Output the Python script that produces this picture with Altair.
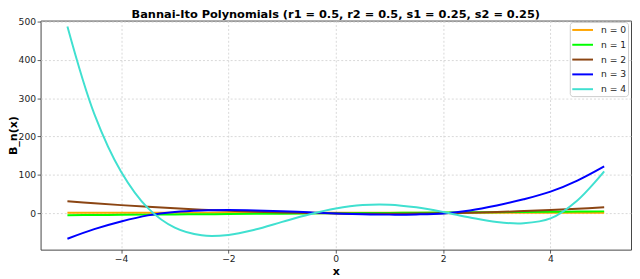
import altair as alt
import pandas as pd

x_vals = [-5.0, -4.5, -4.0, -3.5, -3.0, -2.5, -2.0, -1.5, -1.0, -0.5, 0.0,
          0.5, 1.0, 1.5, 2.0, 2.5, 3.0, 3.5, 4.0, 4.5, 5.0]

b0 = [1, 1, 1, 1, 1, 1, 1, 1, 1, 1, 1, 1, 1, 1, 1, 1, 1, 1, 1, 1, 1]
b1 = [-5.5, -5.0, -4.5, -4.0, -3.5, -3.0, -2.5, -2.0, -1.5, -1.0, -0.5,
      0.0, 0.5, 1.0, 1.5, 2.0, 2.5, 3.0, 3.5, 4.0, 4.5]
b2 = [31, 25.6, 20.8, 16.4, 12.4, 9, 6, 3.6, 1.6, 0, -1,
      -1.6, -1.6, -1.2, -0.4, 1, 2.8, 5.2, 8, 11.2, 15]
b3 = [-67, -42, -22, -6, 3, 7, 8, 7, 5, 2, -1,
      -3, -4, -3.5, -1, 7, 20, 36, 56, 85, 122]
b4 = [487, 259, 108, 13, -38, -58, -57, -43, -23, -3.5, 12,
      21, 22, 15, 3, -11.5, -23.5, -26.5, -14, 33, 109]

series_names = ["n = 0", "n = 1", "n = 2", "n = 3", "n = 4"]
series_colors = ["#FFA500", "#00FF00", "#8B4513", "#0000FF", "#40E0D0"]

x_ticks = [-4, -2, 0, 2, 4]
y_ticks = [0, 100, 200, 300, 400, 500]

rows = []
for name, vals in zip(series_names, [b0, b1, b2, b3, b4]):
    for xv, yv in zip(x_vals, vals):
        rows.append({"x": xv, "value": yv, "series": name})
df = pd.DataFrame(rows)

FONT = "DejaVu Sans"

chart = alt.Chart(df).mark_line(
    strokeWidth=2, interpolate="catmull-rom", clip=True
).encode(
    x=alt.X("x:Q",
            scale=alt.Scale(domain=[-5.5, 5.5], nice=False, zero=False),
            axis=alt.Axis(title="x", values=x_ticks, format="d")),
    y=alt.Y("value:Q",
            scale=alt.Scale(domain=[-95.4, 502.6], nice=False, zero=False),
            axis=alt.Axis(title="B_n(x)", values=y_ticks, format="d")),
    color=alt.Color("series:N",
                    scale=alt.Scale(domain=series_names, range=series_colors),
                    title=None,
                    legend=alt.Legend(
                        orient="none", legendX=536, legendY=1.5,
                        symbolType="M-2,0L2,0", symbolSize=110,
                        symbolStrokeWidth=2, symbolOffset=5,
                        labelOffset=12, labelFont=FONT, labelFontSize=9.3,
                        labelColor="#222222", padding=1.5, rowPadding=3,
                        strokeColor="#cccccc", fillColor="white",
                        cornerRadius=3)),
).properties(
    width=598, height=232,
    autosize=alt.AutoSizeParams(type="none"),
    padding={"left": 33, "top": 11, "right": 1, "bottom": 28},
    title=alt.TitleParams(
        "Bannai-Ito Polynomials (r1 = 0.5, r2 = 0.5, s1 = 0.25, s2 = 0.25)",
        font=FONT, fontSize=11.5, fontWeight="bold", color="black",
        anchor="middle", frame="group", baseline="bottom", offset=0, dy=13.5),
).configure_view(
    stroke="#444444", strokeWidth=1
).configure_axis(
    domain=False, grid=True, gridColor="#cfcfcf", gridDash=[2, 2],
    gridWidth=0.8, tickColor="#333333", tickSize=3.5, tickWidth=0.8,
    labelFont=FONT, labelFontSize=9.3, labelColor="#222222",
    labelPadding=1.5, titleFont=FONT, titleFontSize=11.2,
    titleFontWeight="bold", titleColor="black"
).configure_axisX(
    titlePadding=2
).configure_axisY(
    titlePadding=0
)

chart.save("out.html", embed_options={"renderer": "svg", "actions": False})
